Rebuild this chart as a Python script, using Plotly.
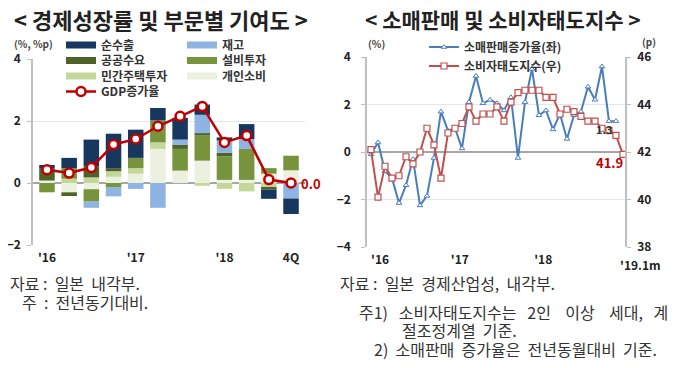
import plotly.graph_objects as go

# ---------------- Left chart data ----------------
quarters = ["16Q1", "16Q2", "16Q3", "16Q4", "17Q1", "17Q2", "17Q3", "17Q4",
            "18Q1", "18Q2", "18Q3", "18Q4"]
q_ticks = ["16Q1", "17Q1", "18Q1", "18Q4"]
q_ticktext = ["'16", "'17", "'18", "4Q"]

private_consumption = [0.08, -0.30, -0.20, 0.20, 0.30, 1.10, 0.40, 0.72, 0.10, 0.10, 0.30, 0.41]
housing_investment = [0.00, 0.14, 0.18, 0.18, 0.18, 0.21, 0.00, -0.09, -0.19, -0.27, -0.16, 0.00]
business_investment = [-0.30, 0.34, -0.40, -0.13, 0.33, 0.71, 0.70, 0.81, 0.76, 1.00, 0.18, 0.47]
public_demand = [0.38, -0.12, 0.36, 0.10, 0.00, 0.00, 0.14, 0.08, 0.11, 0.00, -0.05, 0.00]
inventory = [0.00, 0.00, -0.20, -0.30, -0.19, -0.80, 0.16, 0.59, 0.40, 0.32, 0.00, -0.50]
net_exports = [0.12, 0.33, 0.86, 1.11, 0.91, 0.40, 0.70, 0.33, 0.10, 0.48, -0.30, -0.50]
gdp_growth = [0.43, 0.32, 0.50, 1.24, 1.42, 1.83, 2.15, 2.47, 1.31, 1.53, 0.11, 0.00]

# ---------------- Right chart data ----------------
months = list(range(37))  # Jan 2016 .. Jan 2019
m_ticks = [1.3, 12.7, 24.6]
m_ticktext = ["'16", "'17", "'18"]
retail_sales_growth = [-0.10, 0.40, -0.80, -1.10, -2.15, -1.40, -0.30, -2.25, -1.85, -0.25,
                       1.70, 0.90, 1.00, 0.15, 2.10, 3.20, 2.05, 2.20, 2.05, 1.75,
                       2.30, -0.25, 2.10, 3.50, 1.55, 1.75, 0.95, 1.60, 0.55, 1.55,
                       1.70, 2.75, 2.20, 3.60, 1.30, 1.30]
consumer_confidence = [42.1, 40.1, 41.4, 40.9, 41.0, 41.8, 41.5, 42.0, 43.0, 42.3,
                       40.9, 42.8, 43.0, 43.2, 43.9, 43.3, 43.6, 43.6, 43.9, 43.3,
                       44.1, 44.5, 44.6, 44.6, 44.6, 44.3, 44.3, 43.6, 43.8, 43.7,
                       43.5, 43.3, 43.3, 43.0, 42.9, 42.7, 41.9]

FONT = "Noto Sans CJK KR"
W, H = 680, 368
OFF = 8  # the page body adds an 8px margin; positions below are in window pixels


def px_x(p):
    return (p - OFF) / W


def px_y(p):
    return 1 - (p - OFF) / H


fig = go.Figure()

# name, values, colour, legend id, legend text-left x, legend row centre y
bar_specs = [
    ("개인소비", private_consumption, "#ebf1de", "legend6", 228, 76),
    ("민간주택투자", housing_investment, "#c4d79b", "legend5", 107, 76),
    ("설비투자", business_investment, "#77933c", "legend4", 228, 60.5),
    ("공공수요", public_demand, "#4f6228", "legend3", 107, 60.5),
    ("재고", inventory, "#8db4e2", "legend2", 228, 45),
    ("순수출", net_exports, "#17375e", "legend", 107, 45),
]
legend_pos = {}
for name, vals, col, lg, lx, ly in bar_specs:
    fig.add_trace(go.Bar(x=quarters, y=vals, name=name, marker=dict(color=col, line=dict(width=0)),
                         width=0.7, showlegend=False, xaxis="x", yaxis="y"))
    # legend-only entry drawn as a short thick bar symbol
    fig.add_trace(go.Scatter(x=[None], y=[None], name=name, mode="lines",
                             line=dict(color=col, width=7), legend=lg, showlegend=True,
                             hoverinfo="skip", xaxis="x", yaxis="y"))
    legend_pos[lg] = (lx, ly)

fig.add_trace(go.Scatter(x=quarters, y=gdp_growth, name="GDP증가율", mode="lines+markers",
                         line=dict(color="#c00000", width=2.5),
                         marker=dict(symbol="circle", size=9, color="white",
                                     line=dict(color="#c00000", width=2.5)),
                         legend="legend7", xaxis="x", yaxis="y"))
legend_pos["legend7"] = (107, 91.5)

# Right chart
fig.add_trace(go.Scatter(x=months[:len(retail_sales_growth)], y=retail_sales_growth,
                         name="소매판매증가율(좌)", mode="lines+markers",
                         line=dict(color="#4a7ebb", width=2),
                         marker=dict(symbol="triangle-up", size=5, color="white",
                                     line=dict(color="#4a7ebb", width=1)),
                         legend="legend8", legendrank=1, xaxis="x2", yaxis="y3"))
fig.add_trace(go.Scatter(x=months, y=consumer_confidence,
                         name="소비자태도지수(우)", mode="lines+markers",
                         line=dict(color="#c0504d", width=2),
                         marker=dict(symbol="square", size=6, color="white",
                                     line=dict(color="#c0504d", width=1.2)),
                         legend="legend8", legendrank=2, xaxis="x2", yaxis="y4"))

tickfont = dict(family=FONT, size=12, color="#222", weight="bold")
legfont = dict(family=FONT, size=12, color="#333", weight="bold")

fig.update_layout(
    width=W, height=H, margin=dict(l=0, r=0, t=0, b=0, pad=0, autoexpand=False),
    paper_bgcolor="white", plot_bgcolor="white",
    barmode="relative",
    font=dict(family=FONT, color="#333"),
    xaxis=dict(domain=[px_x(33), px_x(305)], type="category", range=[-0.63, 11.63],
               tickvals=q_ticks, ticktext=q_ticktext, showgrid=False, showline=False,
               ticks="", tickfont=tickfont, ticklabelstandoff=4, anchor="y", fixedrange=True),
    yaxis=dict(domain=[px_y(245), px_y(59)], range=[-2, 4], tickvals=[-2, 0, 2, 4],
               showgrid=True, gridcolor="#e6e6e6", gridwidth=1,
               zeroline=True, zerolinecolor="#a6a6a6", zerolinewidth=1.5,
               showline=True, linecolor="#bfbfbf", linewidth=1.5,
               ticks="outside", ticklen=4, tickcolor="#bfbfbf",
               tickfont=tickfont, ticklabelstandoff=4, anchor="x"),
    xaxis2=dict(domain=[px_x(367), px_x(625)], range=[-0.57, 36.29],
                tickvals=m_ticks, ticktext=m_ticktext, showgrid=False, showline=False,
                zeroline=False, ticks="", tickfont=tickfont, ticklabelstandoff=4, anchor="y3"),
    yaxis3=dict(domain=[px_y(247), px_y(57)], range=[-4, 4], tickvals=[-4, -2, 0, 2, 4],
                showgrid=True, gridcolor="#e6e6e6", gridwidth=1,
                zeroline=True, zerolinecolor="#a6a6a6", zerolinewidth=1.5,
                showline=True, linecolor="#bfbfbf", linewidth=1.5,
                ticks="outside", ticklen=4, tickcolor="#bfbfbf",
                tickfont=tickfont, ticklabelstandoff=8, anchor="x2"),
    yaxis4=dict(range=[38, 46], tickvals=[38, 40, 42, 44, 46], overlaying="y3", side="right",
                anchor="x2", showgrid=False, zeroline=False,
                showline=True, linecolor="#bfbfbf", linewidth=1.5,
                ticks="outside", ticklen=4, tickcolor="#bfbfbf",
                tickfont=tickfont, ticklabelstandoff=4),
    showlegend=True,
)

# one legend per left-chart entry for an exact two-column grid
leg_layout = {}
for lg, (lx, ly) in legend_pos.items():
    leg_layout[lg] = dict(x=px_x(lx - 46), y=px_y(ly - 14.5), xanchor="left", yanchor="top",
                          orientation="v", bgcolor="rgba(0,0,0,0)", font=legfont, itemwidth=30)
leg_layout["legend8"] = dict(x=px_x(462 - 38), y=px_y(47 - 14.5), xanchor="left", yanchor="top",
                             orientation="v", traceorder="normal", bgcolor="rgba(0,0,0,0)",
                             tracegroupgap=0, font=legfont, itemwidth=30)
fig.update_layout(**leg_layout)

ann = []


def note(x, y, text, size=16, color="#333", weight="normal", xanchor="left"):
    ann.append(dict(x=px_x(x), y=px_y(y), xref="paper", yref="paper", text=text,
                    showarrow=False, xanchor=xanchor, yanchor="middle",
                    font=dict(family=FONT, size=size, color=color, weight=weight)))


S = "\u00a0"
note(161, 19, "< 경제성장률 및 부문별 기여도 >", size=22, color="#222", weight="bold", xanchor="center")
note(503, 19, "< 소매판매 및 소비자태도지수 >", size=21, color="#222", weight="bold", xanchor="center")
note(12, 43, "(%, %p)", size=10, color="#444", weight="bold")
note(366, 43, "(%)", size=10, color="#444", weight="bold")
note(640, 41, "(p)", size=10, color="#444", weight="bold")
note(640, 264, "'19.1m", size=12, color="#222", weight="bold", xanchor="center")
note(8, 283, "자료" + S + ":" + S * 2 + "일본" + S * 2 + "내각부.")
note(20, 302, "주" + S * 2 + ":" + S * 2 + "전년동기대비.")
note(338, 283, "자료" + S + ":" + S * 2 + "일본" + S * 2 + "경제산업성," + S * 2 + "내각부.")
note(357, 312, "주1)" + S * 3 + "소비자태도지수는" + S * 3 + "2인" + S * 4 + "이상" + S * 4 + "세대," + S * 3 + "계")
note(400, 330, "절조정계열" + S * 2 + "기준.")
note(372, 349, "2)" + S * 2 + "소매판매" + S * 2 + "증가율은" + S * 2 + "전년동월대비" + S * 2 + "기준.")

ann.append(dict(x=quarters[-1], y=gdp_growth[-1], xref="x", yref="y", text="0.0",
                showarrow=False, xanchor="left", xshift=8,
                font=dict(family=FONT, size=13, color="#c00000", weight="bold")))
ann.append(dict(x=months[-1], y=consumer_confidence[-1], xref="x2", yref="y4", text="41.9",
                showarrow=False, xanchor="right", yanchor="top", xshift=2, yshift=3,
                font=dict(family=FONT, size=13, color="#c00000", weight="bold")))
ann.append(dict(x=len(retail_sales_growth) - 1, y=retail_sales_growth[-1], xref="x2", yref="y3",
                text="1.3", showarrow=False, xanchor="right", yanchor="top", xshift=-1, yshift=2,
                font=dict(family=FONT, size=11, color="#333", weight="bold")))
fig.update_layout(annotations=ann)

fig.write_html("out.html")
